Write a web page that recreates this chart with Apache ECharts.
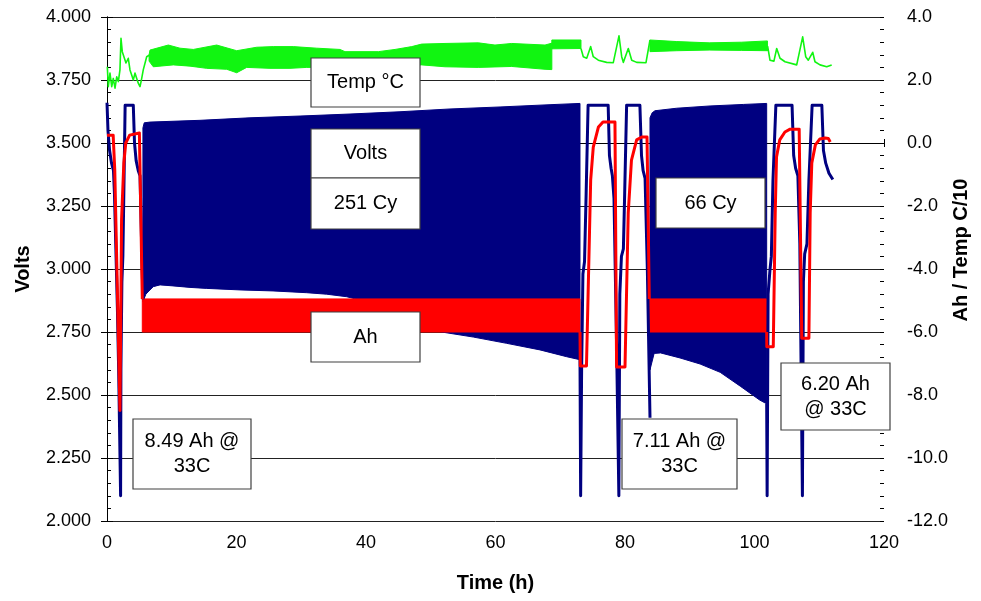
<!DOCTYPE html>
<html>
<head>
<meta charset="utf-8">
<script src="https://cdn.jsdelivr.net/npm/echarts@6/dist/echarts.min.js"></script>
<style>
  html, body { margin: 0; padding: 0; background: #ffffff; }
  #chart { width: 981px; height: 601px; }
</style>
</head>
<body>
<div id="chart"></div>
<script>
// ---- Cell cycling log: voltage, capacity counter (Ah) and temperature/10 vs time ----

// Voltage trace outside the dense cycling blocks [time h, volts]
const voltsTraceA = [[0,3.66],[0.15,3.55],[0.4,3.47],[0.7,3.42],[1.0,3.39],[1.15,3.3],[1.35,3.1],[1.6,2.85],[1.8,2.6],[1.95,2.35],[2.1,2.10],[2.15,2.6],[2.3,2.95],[2.45,3.05],[2.6,3.3],[2.8,3.65],[4.06,3.65],[4.25,3.5],[4.5,3.43],[4.83,3.39],[5.1,3.37],[5.35,3.1],[5.55,2.88]];
const voltsTraceB = [[73.05,2.64],[73.15,2.10],[73.3,2.6],[73.5,2.98],[73.75,3.03],[74.0,3.3],[74.3,3.65],[77.4,3.65],[77.6,3.45],[77.85,3.40],[78.05,3.37],[78.3,3.28],[78.7,2.7],[79.05,2.10],[79.2,2.9],[79.45,3.05],[79.75,3.08],[79.95,3.3],[80.25,3.65],[82.3,3.65],[82.55,3.45],[82.8,3.39],[83.1,3.36],[83.45,3.0],[83.86,2.41]];
const voltsTraceC = [[101.88,2.465],[101.95,2.10],[102.1,2.9],[102.4,3.0],[102.6,3.05],[102.85,3.35],[103.3,3.65],[105.8,3.65],[106.05,3.45],[106.35,3.40],[106.7,3.37],[107.0,3.1],[107.4,2.10],[107.55,2.95],[107.75,3.06],[108.1,3.1],[108.4,3.35],[108.9,3.65],[110.4,3.65],[110.65,3.47],[111.0,3.42],[111.5,3.38],[112.1,3.355]];

// Envelopes of the 251-cycle and 66-cycle voltage blocks [time h, volts]
const voltsBand1Top = [[5.55,3.56],[5.75,3.58],[6.64,3.583],[14.36,3.59],[22.08,3.60],[29.81,3.607],[37.53,3.615],[45.25,3.624],[52.97,3.635],[60.7,3.643],[68.42,3.652],[73.05,3.657]];
const voltsBand1Bottom = [[5.55,2.87],[6.0,2.90],[6.64,2.917],[7.15,2.93],[8.19,2.937],[10.19,2.933],[12.82,2.927],[15.4,2.923],[20.54,2.917],[25.64,2.913],[30.84,2.906],[33.93,2.90],[37.02,2.89],[38.56,2.88],[45.25,2.82],[51.43,2.751],[56.57,2.73],[61.73,2.705],[66.87,2.679],[70.99,2.652],[73.05,2.64]];
const voltsBand2Top = [[83.86,3.60],[84.2,3.62],[84.63,3.628],[87.98,3.638],[93.13,3.647],[98.27,3.653],[101.88,3.657]];
const voltsBand2Bottom = [[83.86,2.60],[84.5,2.665],[85.5,2.667],[88.5,2.647],[91.6,2.623],[94.7,2.59],[97.8,2.535],[100.8,2.48],[101.88,2.465]];

// Capacity counter (Ah) outside the cycling blocks [time h, Ah]
const ahTraceA = [[0,0.25],[0.95,0.25],[1.2,-0.86],[2.0,-8.49],[2.1,-8.49],[2.25,-2.44],[2.6,-0.63],[2.9,0.0],[3.5,0.25],[5.0,0.32],[5.3,0.32],[5.45,-4.95]];
const ahTraceB = [[73.05,-6.0],[73.1,-7.08],[74.05,-7.08],[74.7,-1.17],[75.1,-0.13],[75.9,0.51],[76.6,0.67],[78.45,0.67],[78.7,-7.11],[80.0,-7.11],[80.5,-2.22],[81.0,-0.54],[81.8,0.1],[82.6,0.19],[83.4,0.19],[83.75,-4.95]];
const ahTraceC = [[101.88,-6.0],[101.9,-6.47],[102.9,-6.47],[103.2,-2.22],[103.4,-0.44],[103.9,0.1],[104.7,0.35],[105.5,0.44],[106.9,0.44],[107.3,-6.20],[108.4,-6.20],[108.6,-2.22],[108.85,-0.63],[109.4,-0.06],[110.1,0.13],[110.9,0.16],[111.4,0.14],[111.7,0.03]];

// Capacity swing during the cycling blocks [time h, Ah]
const ahBand1Top = [[5.45,-4.95],[73.05,-4.95]];
const ahBand1Bottom = [[5.45,-6.0],[73.05,-6.0]];
const ahBand2Top = [[83.75,-4.95],[101.88,-4.95]];
const ahBand2Bottom = [[83.75,-6.0],[101.88,-6.0]];

// Temperature / 10 (degC) [time h, value]
const tempTraceA = [[0.05,2.42],[0.2,1.79],[0.46,2.22],[0.73,1.79],[0.97,2.05],[1.24,1.74],[1.5,2.1],[1.75,1.95],[2.0,2.32],[2.16,3.32],[2.36,2.9],[2.63,2.85],[2.93,2.54],[3.29,2.69],[3.55,2.32],[3.81,2.16],[4.06,2.0],[4.32,2.22],[4.59,2.05],[4.83,1.9],[5.1,1.79],[5.36,2.05],[5.6,2.32],[6.13,2.74],[6.64,2.8]];
const tempBand1Top = [[6.5,2.8],[6.64,2.95],[9.47,3.11],[11.27,3.01],[13.33,2.97],[16.94,3.11],[20.03,2.93],[23.12,3.04],[25.69,3.06],[28.78,3.06],[32.39,3.01],[35.98,2.97],[36.76,2.90],[41.9,2.90],[44.48,2.97],[47.06,3.06],[48.6,3.14],[52.2,3.16],[57.35,3.18],[59.92,3.11],[62.5,3.16],[67.65,3.11],[68.7,3.17]];
const tempBand1Bottom = [[6.5,2.6],[7.15,2.42],[10.24,2.48],[12.82,2.44],[15.4,2.37],[18.49,2.34],[20.03,2.23],[21.57,2.40],[25.17,2.37],[28.26,2.37],[30.84,2.40],[40.0,2.42],[48.6,2.48],[52.2,2.42],[57.35,2.40],[62.5,2.43],[67.65,2.34],[68.7,2.33]];
const tempBand2Top = [[68.7,3.27],[73.2,3.27]];
const tempBand2Bottom = [[68.7,2.99],[73.2,3.0]];
const tempTraceB = [[73.2,3.0],[73.31,3.06],[73.56,2.74],[74.09,2.69],[74.7,3.06],[75.1,2.74],[75.88,2.63],[77.17,2.56],[78.19,2.55],[79.07,3.4],[79.49,2.74],[79.74,2.56],[80.51,3.0],[81.04,2.63],[81.81,2.56],[83.24,2.55],[83.86,3.27]];
const tempBand3Top = [[83.86,3.27],[88.0,3.22],[93.0,3.18],[98.0,3.2],[102.0,3.24]];
const tempBand3Bottom = [[83.86,2.90],[88.0,2.93],[93.0,2.95],[98.0,2.94],[102.0,2.93]];
const tempTraceC = [[102.0,2.93],[102.04,3.06],[102.39,2.63],[103.0,2.6],[103.43,3.0],[103.94,2.69],[104.71,2.58],[106.52,2.48],[107.44,3.37],[107.91,2.74],[108.31,2.63],[108.99,2.88],[109.34,2.58],[110.12,2.48],[111.15,2.42],[111.92,2.48]];

// Axis ranges and annotation texts
const timeRange = [0, 120];
const voltRange = [2.0, 4.0];
const ahRange = [-12.0, 4.0];
const annotationTexts = ['Temp °C', 'Volts', '251 Cy', 'Ah', '66 Cy', '8.49 Ah @\n33C', '7.11 Ah @\n33C', '6.20 Ah\n@ 33C'];

// ---- drawing ----
const NAVY = '#000080', RED = '#ff0000', GREEN = '#11f511';
const FONT = '"Liberation Sans", Arial, Helvetica, sans-serif';

function bandSeries(name, top, bottom, yAxisIndex, color) {
  return {
    type: 'custom', name: name, yAxisIndex: yAxisIndex, silent: true, clip: true,
    data: [top[0]],
    renderItem: function (params, api) {
      const pts = top.map(function (p) { return api.coord(p); })
        .concat(bottom.slice().reverse().map(function (p) { return api.coord(p); }));
      return { type: 'polygon', shape: { points: pts }, style: { fill: color, stroke: color, lineWidth: 1 } };
    }
  };
}
function traceSeries(name, data, yAxisIndex, color, width) {
  return {
    type: 'line', name: name, yAxisIndex: yAxisIndex, data: data, symbol: 'none', silent: true,
    lineStyle: { color: color, width: width, join: 'round' }, animation: false
  };
}

const tickLabel = { color: '#000', fontSize: 18, fontFamily: FONT };
const outerAxis = function (extra) {
  return Object.assign({
    axisLine: { show: true, lineStyle: { color: '#000', width: 1 } },
    axisTick: { show: true, inside: false, length: 6, lineStyle: { color: '#000' } },
    splitLine: { show: false }
  }, extra);
};
const innerTickAxis = function (extra) {
  return Object.assign({
    axisLine: { show: false },
    axisLabel: { show: false },
    axisTick: { show: true, inside: true, length: 4, lineStyle: { color: '#000' } },
    splitLine: { show: false }
  }, extra);
};

// Annotation boxes: [left, top, width, height] in px
const layout = [
  [311, 58, 109, 49], [311, 129, 109, 49], [311, 178, 109, 51], [311, 312, 109, 50],
  [656, 178, 109, 50], [133, 419, 118, 70], [622, 419, 115, 70], [781, 363, 109, 67]
];
const boxes = annotationTexts.map(function (txt, i) {
  const b = layout[i];
  return {
    type: 'group', z: 100,
    children: [
      { type: 'rect', z: 100, shape: { x: b[0], y: b[1], width: b[2], height: b[3] },
        style: { fill: '#fff', stroke: '#404040', lineWidth: 1.2 } },
      { type: 'text', z: 101, x: b[0] + b[2] / 2, y: b[1] + b[3] / 2,
        style: { text: txt, font: '20px ' + FONT, fill: '#000', align: 'center', verticalAlign: 'middle', lineHeight: 25 } }
    ]
  };
});

const chart = echarts.init(document.getElementById('chart'), null, { renderer: 'canvas' });
chart.setOption({
  animation: false,
  backgroundColor: '#fff',
  textStyle: { fontFamily: FONT },
  grid: { left: 107, right: 97, top: 17, bottom: 80 },
  xAxis: [
    outerAxis({ type: 'value', position: 'bottom', min: timeRange[0], max: timeRange[1], interval: 20,
      axisTick: { show: true, inside: false, length: 4, lineStyle: { color: '#000' } },
      axisLabel: Object.assign({ margin: 13 }, tickLabel),
      name: 'Time (h)', nameLocation: 'middle', nameGap: 52,
      nameTextStyle: { fontSize: 20, fontWeight: 'bold', color: '#000', fontFamily: FONT } }),
    innerTickAxis({ type: 'value', position: 'bottom', min: timeRange[0], max: timeRange[1], interval: 20 })
  ],
  yAxis: [
    outerAxis({ type: 'value', position: 'left', min: voltRange[0], max: voltRange[1], interval: 0.25,
      axisLabel: Object.assign({ margin: 16, formatter: function (v) { return v.toFixed(3); } }, tickLabel),
      splitLine: { show: true, lineStyle: { color: '#222', width: 1 } },
      name: 'Volts', nameLocation: 'middle', nameGap: 74,
      nameTextStyle: { fontSize: 20, fontWeight: 'bold', color: '#000', fontFamily: FONT } }),
    outerAxis({ type: 'value', position: 'right', min: ahRange[0], max: ahRange[1], interval: 2,
      axisLabel: Object.assign({ margin: 23, formatter: function (v) { return v.toFixed(1); } }, tickLabel) }),
    innerTickAxis({ type: 'value', position: 'left', min: voltRange[0], max: voltRange[1], interval: 0.25,
      minorTick: { show: true, splitNumber: 5, length: 4, lineStyle: { color: '#000' } } }),
    innerTickAxis({ type: 'value', position: 'right', min: ahRange[0], max: ahRange[1], interval: 2,
      minorTick: { show: true, splitNumber: 5, length: 4, lineStyle: { color: '#000' } } })
  ],
  series: [
    bandSeries('Volts 251 Cy', voltsBand1Top, voltsBand1Bottom, 0, NAVY),
    bandSeries('Volts 66 Cy', voltsBand2Top, voltsBand2Bottom, 0, NAVY),
    traceSeries('Volts A', voltsTraceA, 0, NAVY, 3),
    traceSeries('Volts B', voltsTraceB, 0, NAVY, 3),
    traceSeries('Volts C', voltsTraceC, 0, NAVY, 3),
    bandSeries('Ah 251 Cy', ahBand1Top, ahBand1Bottom, 1, RED),
    bandSeries('Ah 66 Cy', ahBand2Top, ahBand2Bottom, 1, RED),
    traceSeries('Ah A', ahTraceA, 1, RED, 3),
    traceSeries('Ah B', ahTraceB, 1, RED, 3),
    traceSeries('Ah C', ahTraceC, 1, RED, 3),
    bandSeries('Temp 1', tempBand1Top, tempBand1Bottom, 1, GREEN),
    bandSeries('Temp 2', tempBand2Top, tempBand2Bottom, 1, GREEN),
    bandSeries('Temp 3', tempBand3Top, tempBand3Bottom, 1, GREEN),
    traceSeries('Temp A', tempTraceA, 1, GREEN, 1.6),
    traceSeries('Temp B', tempTraceB, 1, GREEN, 1.6),
    traceSeries('Temp C', tempTraceC, 1, GREEN, 1.6)
  ],
  graphic: boxes.concat([{
    type: 'text', z: 100, x: 961, y: 250, rotation: Math.PI / 2,
    style: { text: 'Ah / Temp C/10', font: 'bold 20px ' + FONT, fill: '#000', align: 'center', verticalAlign: 'middle' }
  }])
});
</script>
</body>
</html>
